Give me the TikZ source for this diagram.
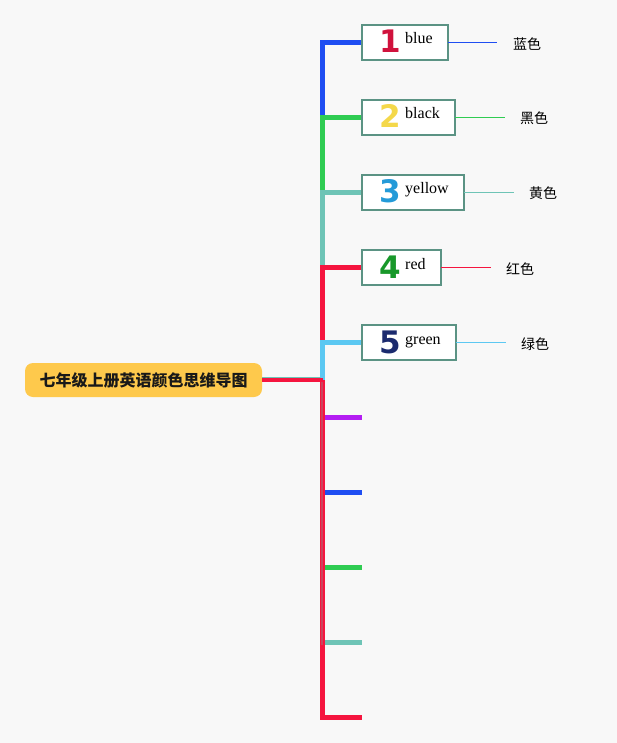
\documentclass[tikz,border=0pt]{standalone}
\usepackage{fontspec}
\setmainfont{Liberation Serif}
\newfontfamily\cjk{Noto Sans CJK SC}
\newfontfamily\digitfont{DejaVu Sans}
\definecolor{bg}{HTML}{F8F8F8}
\definecolor{cblue}{HTML}{1F4EF2}
\definecolor{cgreen}{HTML}{2FCC52}
\definecolor{cteal}{HTML}{6EC4B6}
\definecolor{cred}{HTML}{F5153F}
\definecolor{clblue}{HTML}{5CC8F2}
\definecolor{cpurple}{HTML}{B41EF2}
\definecolor{boxborder}{HTML}{5B9384}
\definecolor{rootfill}{HTML}{FEC94C}
\definecolor{d1}{HTML}{D0123C}
\definecolor{d2}{HTML}{F4D84A}
\definecolor{d3}{HTML}{249AD8}
\definecolor{d4}{HTML}{18982A}
\definecolor{d5}{HTML}{1B2A6E}
\tikzset{
  wordbox/.style={draw=boxborder, line width=1.6pt, fill=white, anchor=north west, minimum height=35pt, inner sep=0pt, outer sep=0pt},
  digitlbl/.style={anchor=base, inner sep=0pt, font=\digitfont\bfseries\fontsize{31}{31}\selectfont},
  wordlbl/.style={anchor=base west, inner sep=0pt, font=\fontsize{16}{16}\selectfont},
  cnlbl/.style={anchor=west, inner sep=0pt, font=\cjk\fontsize{14}{14}\selectfont},
  branch/.style={line width=5pt},
  thin/.style={line width=0.9pt},
}
\begin{document}
\begin{tikzpicture}[x=1pt,y=-1pt]
\fill[bg] (0,0) rectangle (617,743);
\useasboundingbox (0,0) rectangle (617,743);

% root
\node[fill=rootfill, rounded corners=8pt, minimum width=237pt, minimum height=34pt, inner sep=0pt, outer sep=0pt,
      font=\cjk\bfseries\fontsize{16}{16}\selectfont, text=black!90] (root) at (143.5,380) {七年级上册英语颜色思维导图};
\coordinate (hub) at (322.5,380);

% boxes
\node[wordbox, minimum width=86pt] (b1) at (362,25) {};
\node[wordbox, minimum width=93pt] (b2) at (362,100) {};
\node[wordbox, minimum width=102pt] (b3) at (362,175) {};
\node[wordbox, minimum width=79pt] (b4) at (362,250) {};
\node[wordbox, minimum width=94pt] (b5) at (362,325) {};

% tick end points (lower branch)
\coordinate (t1) at (362,417);
\coordinate (t2) at (362,492);
\coordinate (t3) at (362,567);
\coordinate (t4) at (362,642);
\coordinate (t5) at (362,717);

% upper branches
\draw[branch, cblue]  (hub) |- (b1.west);
\draw[branch, cgreen] (hub) |- (b2.west);
\draw[branch, cteal]  (hub) |- (b3.west);
\draw[branch, cred]   (hub) |- (b4.west);
\draw[branch, clblue] (hub) |- (b5.west);

% lower branches
\draw[branch, cpurple] (hub) |- (t1);
\draw[branch, cblue]   (hub) |- (t2);
\draw[branch, cgreen]  (hub) |- (t3);
\draw[branch, cteal]   (hub) |- (t4);
\draw[line width=4pt, cred] (root.east) -- (hub);
\draw[branch, cred] (hub) |- (t5);
\draw[line width=2pt, black!45, opacity=0.4] (321.5,382) -- (321.5,645);
\draw[line width=0.9pt, cteal] (root.east |- 0,377.6) -- (321,377.6);

% redraw boxes on top
\node[wordbox, minimum width=86pt] at (362,25) {};
\node[wordbox, minimum width=93pt] at (362,100) {};
\node[wordbox, minimum width=102pt] at (362,175) {};
\node[wordbox, minimum width=79pt] at (362,250) {};
\node[wordbox, minimum width=94pt] at (362,325) {};

% digits and words
\node[digitlbl, text=d1] (n1) at (390,53) {1};
\node[digitlbl, text=d2] (n2) at (390,128) {2};
\node[digitlbl, text=d3] (n3) at (390,203) {3};
\node[digitlbl, text=d4] (n4) at (390,278) {4};
\node[digitlbl, text=d5] (n5) at (390,353) {5};
\node[wordlbl] (w1) at (405,44) {blue};
\node[wordlbl] (w2) at (405,119) {black};
\node[wordlbl] (w3) at (405,194) {yellow};
\node[wordlbl] (w4) at (405,269) {red};
\node[wordlbl] (w5) at (405,344) {green};

% Chinese labels
\node[cnlbl] (c1) at (513,44) {蓝色};
\node[cnlbl] (c2) at (520,118.5) {黑色};
\node[cnlbl] (c3) at (529,193.5) {黄色};
\node[cnlbl] (c4) at (506,269.5) {红色};
\node[cnlbl] (c5) at (521,344.5) {绿色};

\draw[thin, cblue]  (b1.east) -- (b1.east -| 497,0);
\draw[thin, cgreen] (b2.east) -- (b2.east -| 505,0);
\draw[thin, cteal]  (b3.east) -- (b3.east -| 514,0);
\draw[thin, cred]   (b4.east) -- (b4.east -| 491,0);
\draw[thin, clblue] (b5.east) -- (b5.east -| 506,0);
\end{tikzpicture}
\end{document}
